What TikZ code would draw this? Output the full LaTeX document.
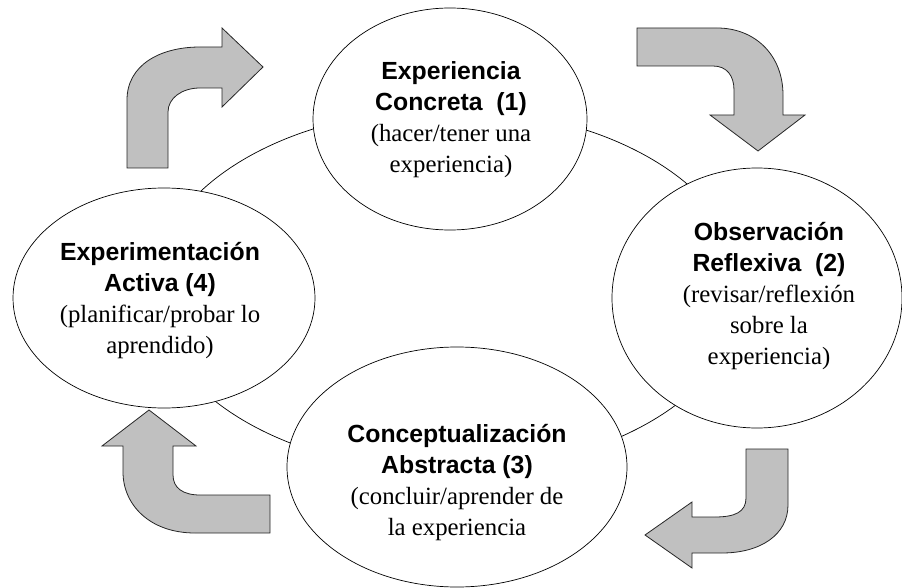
\documentclass[tikz,border=0pt]{standalone}
\usepackage{fontspec}
\setmainfont{Liberation Serif}
\newfontfamily\sansfam{Liberation Sans}
\usetikzlibrary{shapes.geometric}
\definecolor{arrowgray}{RGB}{192,192,192}
\newcommand\sanb[1]{{\sansfam\bfseries #1}}
\begin{document}
\begin{tikzpicture}[x=1pt,y=-1pt,
  stage/.style={ellipse, draw=black, fill=white, line width=0.7pt, inner sep=0pt},
  txt/.style={align=center, font=\fontsize{24.8}{30.8}\selectfont, inner sep=0pt},
  garrow/.style={fill=arrowgray, draw=black!85, line width=0.8pt}]
\useasboundingbox (0,0) rectangle (902,588);
% background cycle
\draw[line width=0.7pt] (448,290) ellipse [x radius=295pt, y radius=181pt];
% stages
\node[stage, minimum width=274pt, minimum height=222pt] (e1) at (450,119) {};
\node[stage, minimum width=290pt, minimum height=260pt] (e2) at (757,298) {};
\node[stage, minimum width=340pt, minimum height=240pt] (e3) at (457,467) {};
\node[stage, minimum width=302pt, minimum height=220pt] (e4) at (164,298) {};
% texts
\node[txt] (t1) at (451,119.5) {\sanb{Experiencia}\\\sanb{Concreta\ \ (1)}\\(hacer/tener una\\experiencia)};
\node[txt] (t2) at (769,296) {\sanb{Observación}\\\sanb{Reflexiva\ \ (2)}\\(revisar/reflexión\\sobre la\\experiencia)};
\node[txt] (t3) at (457,482.5) {\sanb{Conceptualización}\\\sanb{Abstracta (3)}\\(concluir/aprender de\\la experiencia};
\node[txt] (t4) at (160,300.5) {\sanb{Experimentación}\\\sanb{Activa (4)}\\(planificar/probar lo\\aprendido)};
% arrows
\draw[garrow] (127,168) -- (127,100) .. controls (127,65) and (160,47) .. (200,47) -- (222,47) -- (222,28) -- (263,67) -- (222,107) -- (222,88) -- (200,88) .. controls (182,88) and (168,98) .. (168,112) -- (168,168) -- cycle;
\draw[garrow] (637,28) -- (717,28) .. controls (755,28) and (783,55) .. (783,95) -- (783,115) -- (805,115) -- (758,151) -- (710,115) -- (734,115) -- (734,90) .. controls (734,76) and (727,66) .. (713,66) -- (637,66) -- cycle;
\draw[garrow] (788,449) -- (788,505) .. controls (788,535) and (760,553) .. (722,553) -- (692,553) -- (692,568) -- (645,535) -- (692,502) -- (692,517) -- (715,517) .. controls (735,517) and (746,512) .. (746,498) -- (746,449) -- cycle;
\draw[garrow] (270,533) -- (195,533) .. controls (150,533) and (123,505) .. (123,472) -- (123,446) -- (102,446) -- (149,410) -- (196,446) -- (173,446) -- (173,475) .. controls (173,488) and (183,495) .. (200,495) -- (270,495) -- cycle;
\end{tikzpicture}
\end{document}
